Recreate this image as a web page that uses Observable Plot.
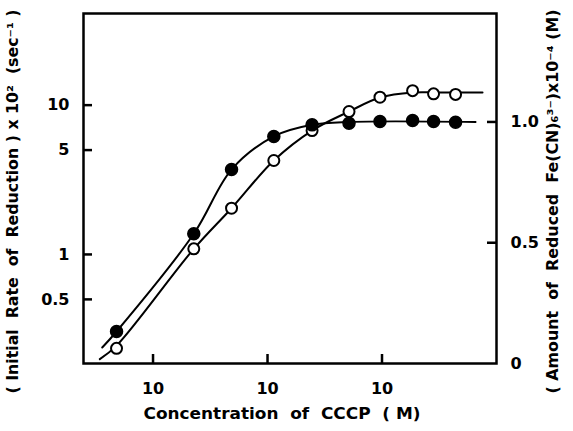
<!DOCTYPE html>
<html><head><meta charset="utf-8">
<script src="https://cdn.jsdelivr.net/npm/d3@7"></script>
<script src="https://cdn.jsdelivr.net/npm/@observablehq/plot@0.6"></script>
<style>
body{margin:0;background:#fff;}
#chart{position:relative;width:573px;height:431px;overflow:hidden;}
#chart svg{position:absolute;left:0;top:0;}
</style></head><body><div id="chart"></div>
<script>
// ---- data ----
const concentration = [4.8e-8, 2.27e-7, 4.85e-7, 1.135e-6, 2.45e-6, 5.15e-6, 9.6e-6, 1.85e-5, 2.82e-5, 4.39e-5];
const openRate = [0.235, 1.09, 2.04, 4.26, 6.76, 9.06, 11.3, 12.5, 11.9, 11.8];          // left axis (log)
const filledAmount = [0.1325, 0.537, 0.803, 0.940, 0.988, 0.995, 1.002, 1.006, 1.002, 0.999]; // right axis

const openCurveX = [3.43e-8, 4.8e-8, 2.27e-7, 4.85e-7, 1.135e-6, 2.45e-6, 5.15e-6, 9.6e-6, 1.85e-5, 3.24e-5, 7.55e-5];
const openCurveY = [0.199, 0.245, 1.09, 2.04, 4.26, 6.76, 9.06, 11.24, 12.15, 12.15, 12.15];
const filledCurveX = [3.6e-8, 4.8e-8, 2.27e-7, 4.85e-7, 1.135e-6, 2.45e-6, 5.15e-6, 6.56e-5];
const filledCurveY = [0.066, 0.1325, 0.537, 0.803, 0.940, 0.988, 1.0, 1.0];

const xTicks = [1e-7, 1e-6, 1e-5];
const xTickLabels = ["10", "10", "10"];
const leftTicks = [0.5, 1, 5, 10];
const leftTickLabels = ["0.5", "1", "5", "10"];
const rightTicks = [0, 0.5, 1.0];
const rightTickLabels = ["0", "0.5", "1.0"];

const xTitle = "Concentration\u00a0 of\u00a0 CCCP\u00a0 (\u00a0M)";
const leftTitle = "(\u00a0Initial\u00a0 Rate\u00a0 of\u00a0 Reduction\u00a0) x 10\u00b2\u00a0 (sec\u207b\u00b9\u00a0)";
const rightTitle = "(\u00a0Amount\u00a0 of\u00a0 Reduced\u00a0 Fe(CN)\u2086\u00b3\u207b)x10\u207b\u2074 (M)";

// ---- layout ----
const W = 573, H = 431;
const mL = 83, mR = 77, mT = 13, mB = 68;
const fw = W - mL - mR, fh = H - mT - mB;
const xDomain = [2.47e-8, 1e-4];
const font = "DejaVu Sans";

const pts = concentration.map((c, i) => ({c, open: openRate[i], filled: filledAmount[i]}));
const openCurve = openCurveX.map((c, i) => ({c, v: openCurveY[i]}));
const filledCurve = filledCurveX.map((c, i) => ({c, v: filledCurveY[i]}));

const base = Plot.plot({
  width: W, height: H, marginLeft: mL, marginRight: mR, marginTop: mT, marginBottom: mB,
  style: {fontFamily: font, fontSize: "16px", fontWeight: "bold", background: "white", color: "black"},
  x: {type: "log", domain: xDomain},
  y: {type: "log", domain: [0.186, 41.1], axis: null},
  marks: [
    Plot.frame({stroke: "black", strokeWidth: 2.5}),
    Plot.tickY(leftTicks, {y: d => d, insetRight: fw - 9, strokeWidth: 2.5}),
    Plot.tickX(xTicks, {x: d => d, insetTop: fh - 9, strokeWidth: 2.5}),
    Plot.text(leftTicks, {y: d => d, text: (d, i) => leftTickLabels[i], frameAnchor: "left", dx: -14,
      textAnchor: "end", fontSize: 16, fontWeight: "bold"}),
    Plot.axisX({anchor: "bottom", ticks: xTicks, tickSize: 0, tickPadding: 19,
      tickFormat: d => xTickLabels[xTicks.indexOf(d)], label: null}),
    Plot.line(openCurve, {x: "c", y: "v", curve: "catmull-rom", stroke: "black", strokeWidth: 2}),
    Plot.dot(pts, {x: "c", y: "open", r: 5.5, fill: "white", stroke: "black", strokeWidth: 2}),
    Plot.text([xTitle], {text: d => d, frameAnchor: "bottom", dy: 55, dx: -8, textAnchor: "middle",
      fontSize: 16, fontWeight: "bold"}),
    Plot.text([leftTitle], {text: d => d, frameAnchor: "left", dx: -70, dy: 13, rotate: -90,
      textAnchor: "middle", fontSize: 15, fontWeight: "bold"})
  ]
});

const over = Plot.plot({
  width: W, height: H, marginLeft: mL, marginRight: mR, marginTop: mT, marginBottom: mB,
  style: {fontFamily: font, fontSize: "16px", fontWeight: "bold", background: "transparent", color: "black"},
  x: {type: "log", domain: xDomain, axis: null},
  y: {domain: [0, 1.449], axis: null},
  marks: [
    Plot.tickY(rightTicks.filter(d => d > 0), {y: d => d, insetLeft: fw - 9, strokeWidth: 2.5}),
    Plot.text(rightTicks, {y: d => d, text: (d, i) => rightTickLabels[i], frameAnchor: "right", dx: 14,
      textAnchor: "start", fontSize: 16, fontWeight: "bold"}),
    Plot.line(filledCurve, {x: "c", y: "v", curve: "catmull-rom", stroke: "black", strokeWidth: 2}),
    Plot.dot(pts, {x: "c", y: "filled", r: 6, fill: "black", stroke: "black"}),
    Plot.text([rightTitle], {text: d => d, frameAnchor: "right", dx: 57, dy: 13, rotate: -90,
      textAnchor: "middle", fontSize: 15, fontWeight: "bold"})
  ]
});

const el = document.getElementById("chart");
el.appendChild(base);
el.appendChild(over);

// fit the long titles to the lengths they take in the reference
const fits = [[leftTitle, 384], [rightTitle, 384], [xTitle, 277]];
for (const svg of [base, over]) {
  svg.querySelectorAll("text").forEach(t => {
    for (const [s, len] of fits) {
      if (t.textContent === s) {
        t.setAttribute("textLength", len);
        t.setAttribute("lengthAdjust", "spacingAndGlyphs");
      }
    }
  });
}
</script>
</body></html>
